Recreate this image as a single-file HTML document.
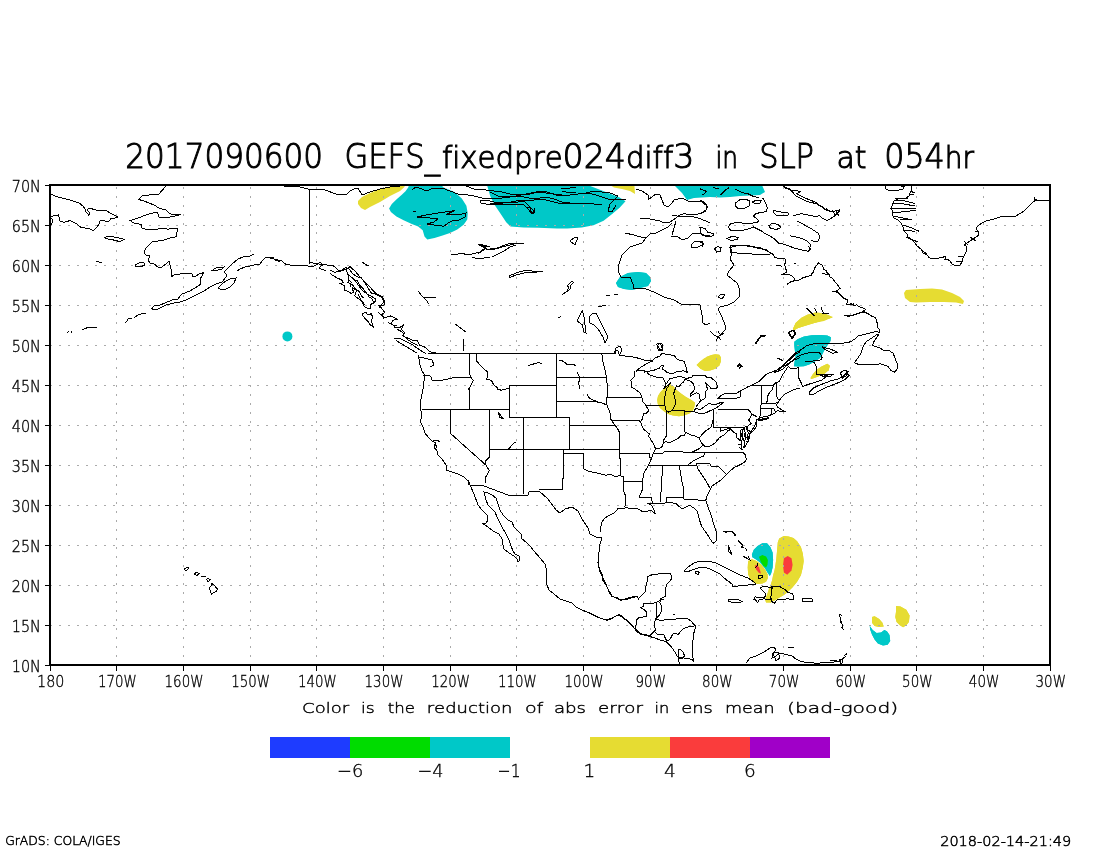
<!DOCTYPE html>
<html><head><meta charset="utf-8"><title>2017090600 GEFS_fixedpre024diff3 in SLP at 054hr</title>
<style>
html,body{margin:0;padding:0;background:#fff;}
svg{display:block;}
text{font-family:"DejaVu Sans Light","DejaVu Sans","Liberation Sans",sans-serif;font-weight:200;fill:#000;stroke:#000;font-variant-ligatures:none;font-kerning:none;}
.ax{font-size:16px;}
</style></head>
<body>
<svg width="1100" height="850" viewBox="0 0 1100 850">
<rect width="1100" height="850" fill="#fff"/>
<g><path fill="#e6dc32" d="M358 201 362 197 370 193 380 189 390 186.6 402 185.6 405 186.6 400 191 390 196 380 202 370 207 365 210 361 208 358 204Z"/><path fill="#00c8c8" d="M409 185 441 185 443.6 187.5 454.5 192.1 461.8 198.5 466.4 205.7 467.7 213 467.3 219.4 463.6 224.8 457.3 229.4 450 233 441.8 235.7 434.5 238 427.3 239.4 424.5 236.6 422.7 230.3 418.2 226.6 411.8 223.9 403.6 220.3 396.4 216.6 390.9 212.1 389.1 208.5 391.8 203.9 396.4 199.4 401.8 194.8 405.5 191.2 408.2 187.5Z"/><path fill="#00c8c8" d="M487 185 587.6 185 605.1 191.7 619.6 197.5 625.5 201.2 619.6 207.7 610.9 215 603.6 220.8 593.5 225.2 581.8 227.4 567.3 228.4 557.1 228.4 538.2 227.8 523.6 227.4 510.5 226.6 506.2 222.3 500.4 213.5 494.5 204.8 490.2 196.1 487.3 186Z"/><path fill="#e6dc32" d="M610 185 634.4 185 635 194 630 191 622 189 614 187.4Z"/><path fill="#00c8c8" d="M674 185 762 185 765 192 760 195 750 195.4 740 196 730 197 720 197.4 710 197 702 197.4 694 198 687 200 682 193Z"/><path fill="#e6dc32" d="M793 329 796 323 802 318 812 314 822 313 833 317 824 321 814 323 806 325 798 328 794 330.6Z"/><path fill="#e6dc32" d="M904 293 906 290 920 289 932 288.6 942 289.4 952 293 960 297 964 301 963 304 956 302.6 944 302 930 302 916 302.6 910 302 905 298Z"/><path fill="#00c8c8" d="M794.3 341.8 797.5 339.2 804 336.6 811.8 335.3 820.8 335 827.3 335.5 830.9 337.2 830.5 341.1 827.3 345.6 824.7 349.5 822.1 354.7 819.5 358.6 814.3 361.8 809.2 364.4 804 366.3 798.8 366.6 793.9 366.3 794.7 361.2 795.6 356 794.9 350.8 794.3 345.6Z"/><path fill="#e6dc32" d="M793 328.8 795.6 323 801.4 317.8 807.9 314.6 815.6 312.6 823.4 313.3 828.6 315.2 832.5 317.4 827.3 319.1 820.8 321.1 814.3 323 807.9 324.9 801.4 326.9 796.2 328.8 793.6 330.8Z"/><path fill="#e6dc32" d="M810.5 378 813 374.1 816.9 369.6 822.1 366.3 827.3 363.8 829.9 365.7 828.6 370.2 824.7 373.5 819.5 376 814.3 378 811.1 379Z"/><path fill="#e6dc32" d="M783.9 536.1 779.2 538.5 777.8 542.2 777.4 546.9 776.9 552.6 776.4 558.2 775.5 564.8 774.5 570.5 773.1 575.2 772.2 579.9 770.8 584.6 768.9 589.3 767 594.9 765.1 599.6 766.1 602.5 770.8 602.5 774.5 600.6 779.2 597.8 783.9 594.9 787.7 592.1 792.4 587.4 797.1 581.8 800.9 575.2 802.8 567.6 803.7 561.1 802.8 553.5 800.9 546.9 797.1 541.3 793.4 538 788.6 536.4Z"/><path fill="#fa3c3c" d="M783.9 558.2 787.7 555.9 791.5 558.2 792.6 564.8 791.5 570.5 787.2 574.7 783.9 572.4 783 565.8Z"/><path fill="#00c8c8" d="M751.9 554.5 753.8 549.8 757.6 546 762.3 543.2 767 543.2 770.3 546.9 772.6 552.6 773.1 560.1 772.6 567.6 771.2 573.3 769.8 576.1 767.5 572.4 765.1 568.6 762.8 565.8 759.5 562 755.7 559.2 752.4 557.3Z"/><path fill="#00dc00" d="M759 556.8 762.3 554.9 766.1 556.4 767.9 560.1 767.5 564.8 766.1 567.6 763.2 565.8 760.9 562Z"/><path fill="#e6dc32" d="M748.2 561.1 751.9 559.2 756.6 561.1 761.4 564.8 765.1 569.5 767.5 574.2 767.9 578 766.1 581.8 762.3 583.6 757.6 584.1 753.8 582.7 750.1 578.9 748.2 574.2 747.7 567.6Z"/><path fill="#fa3c3c" d="M754.8 565.8 756.6 564.8 759 567.2 760.4 571.4 760.9 573.8 758.5 572.4 756.2 569.5Z"/><path fill="#e6dc32" d="M872 616.9 874.6 616.3 879.2 618.9 882.4 622.7 883.7 626.6 879.2 627 874.6 626 872 622.7Z"/><path fill="#e6dc32" d="M896 605.9 900.5 606.6 906.3 609.8 909.6 615.6 908.9 622.1 906.3 625.3 903.1 627.3 899.9 625.3 896.6 622.1 895.3 616.9 896 611.7Z"/><path fill="#00c8c8" d="M869.8 626 872.7 629.9 876.6 633.1 881.1 632.4 884.3 629.9 886.9 631.2 889.5 635 890.2 640.9 887.6 644.7 883 645.6 877.9 643.4 874.6 639.6 872 634.4 870.1 629.2Z"/><path fill="#00c8c8" d="M616 283 620 277 628 273 638 272 646 273 650 277 651 281 648 286 640 288 632 290 624 289 618 287Z"/><path fill="#e6dc32" d="M696.6 364.9 699.9 361.7 703.8 358.7 707.6 356.5 711.5 355 715.4 354.3 719.3 354.8 720.8 357.2 720.8 361.7 719.3 365.6 715.4 368.8 710.2 370.4 705 371.1 700.5 368.8Z"/><path fill="#e6dc32" d="M657.2 400 658 396 660.5 392 663.8 388.7 667 386.2 670.4 384.5 672.8 385.4 676 389.5 681 393.6 686 396.9 691.8 400.2 695 402.7 694.2 407.6 692.6 411 689.3 413.4 684 415.5 679 416.3 673 415.5 668 414 664 411.2 660 408 657.8 404Z"/><path fill="#00c8c8" d="M794.3 341.8 797.5 339.2 804 336.6 811.8 335.3 820.8 335 827.3 335.5 830.9 337.2 830.5 341.1 827.3 345.6 824.7 349.5 822.1 354.7 819.5 358.6 814.3 361.8 809.2 364.4 804 366.3 798.8 366.6 793.9 366.3 794.7 361.2 795.6 356 794.9 350.8 794.3 345.6Z"/><path fill="#e6dc32" d="M793 328.8 795.6 323 801.4 317.8 807.9 314.6 815.6 312.6 823.4 313.3 828.6 315.2 832.5 317.4 827.3 319.1 820.8 321.1 814.3 323 807.9 324.9 801.4 326.9 796.2 328.8 793.6 330.8Z"/><path fill="#e6dc32" d="M810.5 378 813 374.1 816.9 369.6 822.1 366.3 827.3 363.8 829.9 365.7 828.6 370.2 824.7 373.5 819.5 376 814.3 378 811.1 379Z"/><path fill="#e6dc32" d="M783.9 536.1 779.2 538.5 777.8 542.2 777.4 546.9 776.9 552.6 776.4 558.2 775.5 564.8 774.5 570.5 773.1 575.2 772.2 579.9 770.8 584.6 768.9 589.3 767 594.9 765.1 599.6 766.1 602.5 770.8 602.5 774.5 600.6 779.2 597.8 783.9 594.9 787.7 592.1 792.4 587.4 797.1 581.8 800.9 575.2 802.8 567.6 803.7 561.1 802.8 553.5 800.9 546.9 797.1 541.3 793.4 538 788.6 536.4Z"/><path fill="#fa3c3c" d="M783.9 558.2 787.7 555.9 791.5 558.2 792.6 564.8 791.5 570.5 787.2 574.7 783.9 572.4 783 565.8Z"/><path fill="#00c8c8" d="M751.9 554.5 753.8 549.8 757.6 546 762.3 543.2 767 543.2 770.3 546.9 772.6 552.6 773.1 560.1 772.6 567.6 771.2 573.3 769.8 576.1 767.5 572.4 765.1 568.6 762.8 565.8 759.5 562 755.7 559.2 752.4 557.3Z"/><path fill="#00dc00" d="M759 556.8 762.3 554.9 766.1 556.4 767.9 560.1 767.5 564.8 766.1 567.6 763.2 565.8 760.9 562Z"/><path fill="#e6dc32" d="M748.2 561.1 751.9 559.2 756.6 561.1 761.4 564.8 765.1 569.5 767.5 574.2 767.9 578 766.1 581.8 762.3 583.6 757.6 584.1 753.8 582.7 750.1 578.9 748.2 574.2 747.7 567.6Z"/><path fill="#fa3c3c" d="M754.8 565.8 756.6 564.8 759 567.2 760.4 571.4 760.9 573.8 758.5 572.4 756.2 569.5Z"/><path fill="#e6dc32" d="M872 616.9 874.6 616.3 879.2 618.9 882.4 622.7 883.7 626.6 879.2 627 874.6 626 872 622.7Z"/><path fill="#e6dc32" d="M896 605.9 900.5 606.6 906.3 609.8 909.6 615.6 908.9 622.1 906.3 625.3 903.1 627.3 899.9 625.3 896.6 622.1 895.3 616.9 896 611.7Z"/><path fill="#00c8c8" d="M869.8 626 872.7 629.9 876.6 633.1 881.1 632.4 884.3 629.9 886.9 631.2 889.5 635 890.2 640.9 887.6 644.7 883 645.6 877.9 643.4 874.6 639.6 872 634.4 870.1 629.2Z"/><path fill="#00c8c8" d="M616 283 620 277 628 273 638 272 646 273 650 277 651 281 648 286 640 288 632 290 624 289 618 287Z"/><path fill="#e6dc32" d="M696.6 364.9 699.9 361.7 703.8 358.7 707.6 356.5 711.5 355 715.4 354.3 719.3 354.8 720.8 357.2 720.8 361.7 719.3 365.6 715.4 368.8 710.2 370.4 705 371.1 700.5 368.8Z"/><path fill="#e6dc32" d="M657.2 400 658 396 660.5 392 663.8 388.7 667 386.2 670.4 384.5 672.8 385.4 676 389.5 681 393.6 686 396.9 691.8 400.2 695 402.7 694.2 407.6 692.6 411 689.3 413.4 684 415.5 679 416.3 673 415.5 668 414 664 411.2 660 408 657.8 404Z"/><circle fill="#00c8c8" cx="287.4" cy="336.4" r="5"/></g>
<path d="M50 225.5H1050M50 265.5H1050M50 305.5H1050M50 345.5H1050M50 385.5H1050M50 425.5H1050M50 465.5H1050M50 505.5H1050M50 545.5H1050M50 585.5H1050M50 625.5H1050" stroke="#aaa" stroke-width="1" stroke-dasharray="2 7" fill="none" shape-rendering="crispEdges"/>
<path d="M116.5 666V185M183.5 666V185M250.5 666V185M316.5 666V185M383.5 666V185M450.5 666V185M516.5 666V185M583.5 666V185M650.5 666V185M716.5 666V185M783.5 666V185M850.5 666V185M916.5 666V185M983.5 666V185" stroke="#aaa" stroke-width="1" stroke-dasharray="2 7" fill="none" shape-rendering="crispEdges"/>
<g fill="none" stroke="#000" stroke-width="1" shape-rendering="crispEdges">
<path d="M50 194 58 197 70 200 79 203 83 206 85 209 86 212 89 215.4 89.6 213 87 210 89 208 96 210 106 210.6 113 214.6 118.4 217.4M118.4 217.4 111 218.6 108 222 103.6 220.6 100 221 99 224 97 227 93.6 230.6 89 228.6 81 227.4 76 223.4 70 220.6 64 222.2 60 221 58.4 215 53 216 50 216.6M50 218 52.4 219.4 53 222 51 224.4 50 224.2M105 237.4 108 236 116 237.4 124.4 239.4 119 242 117 240.6 110 239.4 106 238.6ZM96 261 101.6 263M166 186 159 194 152 194.6 142 196 138.4 199.4 144 201 154 205 160 208.6 166 210 169 213 173 215 181 214.6 172 216.6 165 218 159 217 157.6 213 154 212.6 146 215 138 218 130 220.6 134 223 141 224.4 142 228 148 230 156 229.4 164 228 168 229.4 172 228 177 228 178 231 176 233 177 236 174 237.4 170 238 164 240 158 241 153 241.4 150 244 146 248 144 252 145.6 255 150 256 148 260 150 263 154 264 158 267 162 267 166 264 169 261 170 265 171 269 171 277 174 275 180 274 186 273 192 274 193 277 196 276 199 274 204 272.6M204 272.6 200 279 201 284 198 286 190 291 182 294 180 296 178 299 172 300 165 303 160 305 154 306 151.6 309 156 310 162 307 166 305 174 303 180 302 186 300 194 296 204 291 210 287 216 284 222 282 226 277 226 274 224 272 229 267 232 264 238 259 244 256.6 250 256 254 254M135 265 139 263 144 262.6 145 265 141 266.6 135 266ZM125.6 322.6 129 318 132 318.6M134 318 138 315 141 314 145.6 313M82 330 88 327.4 97 328M67.6 332.6 69 331M71 332.6 72 331M218 288 222 284 226 281 230 279 236 278 234 283 230 287 226 289 222 290ZM211 271 216 268 224 267 222 269 216 270.6ZM237 271 240 269 245 267 250 266 254 265 260 264 262 261 265 258 268 257 270 257.4M270 185.4 284 186 300 187 310 189.4 322 189 336 194 346 195 350 191 354 189 358 188 362 195 370 192 380 189 390 187 400 186M309.4 188.6 309.4 264M451 255 458 254 462 253 466 254.6 472 254 480 252 484 249 486 247 478 244.4 483 245 490 247M472 257 478 259 490 257M270 258 274 259 278 260 282 261 286 264.6 290 265 302 265 308 266 312 267 318 264 320 262 322.4 265 319 268 326 271M270 257 273 257.4 275 260 278 260.6 280 262M362 262 368 266M455 324 466 332M464 339 463 351M412 190 416 187 422 189 426 191 434 188 442 188 450 191 458 194 466 194.6 474 196 482 198 490 199 498 198.6 510 197 516 196 524 197 534 199 546 197 554 199 562 202 570 203M466 186 474 189 486 190 494 191 502 192 510 194 520 195 530 194 538 192 546 193 554 194 562 195 570 196M480 201 486 200 494 202 506 203 518 202 524 201 530 207 534 211 532 214 528 209 524 205 518 204 506 205 494 204.6 486 204 481 203ZM417 217 426 215 438 213 455 210.6 446 214.6 458 215 466 213 465 217 459 220 452 221 448 223 443 227 441 225 434 225 427 224 434 222 438 219 430 218ZM413 211 416 211.4M478 244.6 483 247 486 248.6 482 251 478 254M486 249 494 249.4 502 247 510 245 516 243.4 524 244M490 192 498 196 506 197 516 196 526 194 536 192 544 191 550 193 556 195 564 196 570 195 578 194 588 193 596 195 602 197 608 199 614 199.4 620 200 626 199M490 204 498 203.4 508 202.6 516 201 526 200.6 534 200 542 199 550 201 558 203 566 204 574 203.4 584 203.4 594 204 602 204M524 205 526 207 530 208 531 211 533 214 535 211 534 208M561 188 566 189 570 188 576 187M562 191 570 193 576 192M586 193 594 191 602 192 610 193 618 196 614 200 610 204 608 211 612 212 616 205M636 189 642 191 648 195 648 200 652 197 656 194 660 195 662 200 664 205 668 207 672 203 674 200 678 199 682 198 688 201 694 201 702 202 706 205 707 209 702 213 694 215 686 214M640 218 650 219 660 221 664 223 670 222 676 218 680 215 686 213M672 215 682 217 690 216 698 218 706 221 710 223M671 236 678 237 682 240 688 238 692 234 698 233 704 235 710 235M672 235 676 221M625 233 634 235 642 237.4 646 238 642 243 636 245 630 247 626 251 622 255 620 261 618 267 619 273 621 277 630 277 633 284 634 289 644 288 656 293 664 297 674 300 682 304.6 690 304 700 305 702 315 703 323 706 325 710 323M646 238 650 234 656 233 662 230 668 227 672 223M691 245 694 242 702 241.4 704 244 698 247 692 248ZM490 249 496 248.6 502 246 508 244 514 243.4 524 243.6M492 257 498 254 504 251 510 247 516 245M570 241 574 238 578 237.4 576 242 575 245ZM509 276 516 273 524 270.6 532 271 543 271.4 532 272.6 524 273 516 275 510 277.4ZM562 295 567 291 569 287 567 286 570 283 572 281 573.6 282.6 571 285 570 289 567 292M577 321 581 313 582.4 311 584 317 585 325 586 333 584 332 582.4 325 580 323ZM589 317 592 314 596 313 598 317 602 325 606 333 608 337 605 343 603 337 598 329 594 325 590 323ZM598 307 606 305M606 296 610 295M614 294 618 294M558 318 561 316.6M614 354 616 348 620 346 622 350 620 354M657 347 659 343 662 344 663 350 659 350.6ZM730 246 740 245 750 246 760 248M730 246 732 253 730 259 734 265 729 271 727 275 732 279 737 283 739.6 289 739 297 734 302 728 305 720 307 718 309 722 317 725 325 726 329 722 333 718 337 716 341M718 297 721 294 725 295 722 299ZM756 344 760 337 765 335.4M788.4 333 792 330.6 796 333 792 339ZM418 355 419 359 420 365 422 371 425 375 424 381 423 389 421 399 420.4 409 422 415 420.4 422 423 427 425 433 428 437 432 441 436 443 434 447 437 451 438 455 442 459 446 465 446.4 470 452 472 458 474 464 477 468 481 469 485M433 441 438 440.6 440 442M434 444 437 446 436 448M418 357 424 358 428 359 432 360 434 365 430 367M774.2 372.2 778.1 368.9 782 366.3 785.9 362.5 791.1 357.3 794.9 353.4 801.4 349.5 806.6 345.6 814.3 343.7 822.1 343 829.9 343 837.6 343.3 844.1 343 850.6 341.8 854.5 339.2 858.3 335.9 863.5 334.6 868.7 333.3 873.9 332.1 877.7 331.4 879 333.3M879 334 876.5 337.9 873.9 341.8 872.6 345.6 876.5 346.9 880.3 348.2 884.2 350.8 889.4 350.8 893.3 353.4 894.6 357.3 895.9 360.5 897.2 363.8 897.2 368.9 894.6 372.2 890.7 370.2 888.1 366.3 884.2 365 880.3 363.8 876.5 364.4 872.6 365 867.4 364.4 860.9 364.4 855.7 363.8 854.5 362.5 858.3 357.3 860.9 353.4 862.2 349.5 863.5 345.6 866.1 341.8 870 339.2 873.9 336.6 877.7 334M776.8 372.2 780.7 367.6 785.9 365 789.8 362.5 794.9 358.6 798.8 356 804 354 809.2 352.8 814.3 352.1 819.5 352.8 820.8 354.7 822.1 357.3 820.8 359.9 816.9 360.5 811.8 361.2 807.9 361.8 804.6 361.2M822.1 346.9 829.9 348.9 837.6 352.1 832.5 353.4 826 350.2ZM788.5 367.6 793.6 368.9 798.8 367.6 798.8 372.8 798.8 378 801.4 383.2 802.7 386.4 807.9 384.5 814.3 382.5 820.8 380.6 824.7 378 827.3 375.4 816.9 374.1 816.9 367.6 814.3 362.5 811.8 361.2M809.2 392.2 813 388.3 818.2 385.7 824.7 383.2 831.2 380.6 837.6 379.3 842.8 376.7 846.7 372.8 849.3 375.4 845.4 379.3 840.2 381.9 833.8 384.5 827.3 387 822.1 389.6 816.9 392.2 813 394.8 809.8 394.2ZM820.8 375.4 827.3 374.1 832.5 374.8 829.9 376.7 823.4 376.7ZM840.2 372.8 844.1 370.2 848 371.5 846.7 375.4 842.8 378ZM879 328.8 879 332.7M844.1 315.2 850.6 315.9 857 313.9 862.2 312M760 335.3 765.8 335.3M806.6 308.1 811.8 313.3 814.3 315.9M814.3 308.1 816.9 312.6M820.8 306.8 823.4 313.3M822.1 313.5 828.6 313.5M789.1 331.4 794.3 330.1 794.9 334.6 791.7 337.9ZM776.8 357.9 783.3 360.5M470 485 474 494 478 505 482 510 487 515 488 520 486 523 483 523.6 488 527 493 531 499 534 502 539 503 545 504 549 509 553 514 556 517 559 518 562 520 560 519 556 515 554 513 551 511 546 509 540 506 534 501 525 497 517 495 512 493 510 488 505 486 500 485 496 484 492 488 493 492 495 496 498 498 504 500 510 503 515 508 520 512 522 514 527 518 531 521 534 522 539 526 542 530 546 534 551 540 558 545 564 547 571 546 580 547 585 549 590 554 594 560 599 566 601 572 603 576 607 582 610 592 614 600 618 606 620 612 618 618 615 622 617 630 623 635 629 640 634 648 636 655 638 660 640M468 480 470 485M470 485 484 486 508 495 528 495 529 492 539 491 548 499 556 510 560 513 565 509 572 507 578 511 582 519 588 528 590 534 596 537 602 538M602 538 600 544 599 552 598 564 600 572 604 580 608 589 612 596 620 600 628 599 638 596M598.4 555 598 562.8 599.7 569.2 602.3 574.4 602.9 580.2 606.8 586.1 609.4 592.5 612 596.4 617.2 597.7 621.1 600.3 625 599 631.4 597.1 636.6 596.4 638.5 599 640.5 596.4 643.1 593.8 645.7 591.2 645.9 586.1 647 582.2 647.6 577 650.8 575.1 657.3 574.2 662.5 573.1 670.3 573.8 671.8 575.7 671.6 578.9 669 582.2 666.4 584.8 665.7 588.7 665.1 596.4 662.5 597.7 660.6 599 659.9 602.9 661.8 606.8 661.8 610.7 659.9 614.5 657.3 617.1 656 619.1 659.9 620.4 667.7 619.7 675.4 619.1 680.6 618.4 687.1 618.4 691 621 693.6 624.3 695.5 625.6 694.9 629.4 693.6 634 692.9 641.7 692.3 649.5 692.9 657.3 693.6 662.4M656 602.9 656 618.4M656 602.9 660.6 599.7 664.4 599.7M656 602.9 643.1 603.5 643.1 606.8 640.5 607.4 643.7 609.4 646.3 612 647 616.5 639.2 617.4 636.6 619.7 636 624.9 635.3 628.8 639.2 632.7 641.8 634.2 648.3 635.3 649.5 635.9M656 618.4 654.7 622.3 654.7 625.6 655.4 630.1 650.8 634 649.5 635.9M590 613.3 597.8 617.1 606.8 620.4 612 618.4 618.5 614.5 622.4 616.5 627.5 621 632.7 626.2 636.6 631.4 641.1 634.2 648.3 635.9 654.7 637.8 661.2 640.4 666.4 641.7 670.3 645.6 674.1 650.8 678 657.3 679.3 663.7M649.5 635.9 654.1 631.4 657.3 634 660.6 634.6 663.8 634.6 665.7 639.1 667.7 641.1M667.7 641.1 670.9 637.8 672.8 634 675.4 633.3 678 634.6 680.6 631.4 683.2 628.8 688.4 626.8 693.6 626.2 695.5 625.6M679.3 658.6 683.2 657.9 688.4 658.6 692.3 659.9 693.6 662.4M678 650.1 680.6 649.5 683.2 652.1 684.5 656 681.3 657.9 678.7 657.3 678 653.4ZM672.8 614.8 674.8 614.3M695.5 571.8 697.4 571.2 699.4 572.5 698.1 574.4 695.9 573.8ZM723 532 728 531 733 532 736 535 734 536M728 545 730 550 732 555 729 552ZM738 540 740 543M741 546 742.4 548M744 556 749 560M684 571 688 567 694 563 700 561 708 561 716 563 722 566 728 569 734 572 740 575 748 578 754 582 756 584 748 585 738 586 733 587 732 584 728 581 724 578 720 574 716 572 710 569 704 567 698 568 692 570 688 571.6 685 571.6ZM728 600 732 599 738 599.6 742 601.6 738 603 732 602.4 728 601ZM802 599 806 598 812 599 812.4 601.6 806 602 802 601ZM746 663 750 658 756 656 764 652 770 648 774 647 776 650 773 653 772 658 776 656 780 653 784 654 788 655 792 656 796 659 800 661 804 662 810 662.4 814 663 820 663 832 662.4 840 661 846 656M773 653 778 652 780 658 776 661ZM788 647 794 648M839 614 842 624 843 629M757.6 563.4 757.1 565.8 755.2 567.6M758.1 576.1 759.9 575.6 763.2 576.1 761.4 578 758.5 578.5ZM748.2 556.4 750.5 561.1M760.4 587.4 763.2 586.5 767 586.9 770.8 587.4 772.6 586.5 776.4 586 780.2 586.9 783.9 588.8 786.8 591.2 787.7 592.1 792.4 594 793.8 595.9 793.4 599.6 790.5 599.6 787.7 598.7 783.9 599.6 780.2 599.6 776.4 600.1 774.5 603.4 772.6 602.5 771.7 599.6 767.9 599.6 764.2 598.7 759.5 599.6 757.6 602.5 755.7 600.1 753.8 599.2 755.2 596.8 758.5 597.8 762.3 597.8 765.1 596.8 766.1 594.9 764.2 592.1 762.3 590.2 760.4 588.4ZM772.2 586.5 771.7 592.1 770.8 597.8 772.2 602.5M738.8 541.3 742.5 545.1 743.5 548.4M745.4 547.9 747.2 551.2M743.5 555.9 745.4 558.2M839.1 614.3 842.3 615.6M839.7 620.8 841.6 623.4M841.6 627.3 843.6 629.9M844.2 655.7 846.8 653.8M830 660.9 836.5 660.3M839.7 659.6 842.3 659.6 842.9 662.2 841 663.5ZM600 531.8 601.5 522.9 604.4 518.5 608.8 515.6 614.7 512.6 617.6 509 622.1 508.2 626.5 507.9 632.4 508.5 636.8 508.2 639.7 509.7 642.6 511.9 647.1 511.2 651.5 510.4 652.9 511.9 655.1 513.4 653.7 509 651.5 505.3 648.5 503.8 651.5 503.5 654.4 503.8 660.3 503.5 664.7 503.1 669.1 502.4 673.5 503.1 676.5 503.8 679.4 506.8 682.4 509 685.3 507.5 689.7 505.3 694.1 508.2 697.1 511.2 698.5 515.6 700 521.5 701.5 525.9 704.4 530.3 707.4 534.7 710.3 539.1 713.2 543.5 716.2 540.6 716.9 534.7 715.4 528.8 713.2 522.9 711.8 517.1 709.6 511.2 707.4 505.3 705.9 500.9 706.6 496.5 708.8 492.1 711.8 486.2 716.2 483.2 720.6 480.3 725 475.9 729.4 471.5 733.8 467.8 738.2 465.6 741.2 464.1 744.1 462.6 746.3 459.7 745.6 455.3 743.4 453.1M725 532.5 729.4 531 732.4 531.8 735.3 535.4M738.2 541.3 741.2 543.5M774.1 371.8 780 368.2 784.7 363.5 789.4 360 794.1 355.3 800 351.8M775.3 372.4 782.4 369.4 787.1 365.3 792.9 360.6 800 357.6M756.5 420 760 417.6 765.9 416.5 770.6 415.3 775.3 412.9 777.6 410.6 780 411.2 784.1 411.2 781.2 409.4 777.6 407.1 776.5 404.7 778.8 401.2 781.2 397.6 784.7 394.1 789.4 391.8 794.1 389.4 800 388.2M757.6 420 763.5 418.8 769.4 417.6 765.9 419.4 760 420.6ZM756.5 420 755.3 424.7 751.8 430.6 749.4 434.1 748.2 440M747.1 427.1 748.2 432.9 747.1 440M740 430.6 741.2 434.1 742.9 440M744.7 432.9 745.3 440M738.2 366.5 740 364.7 741.8 366.5 740 368.2ZM755.3 343.5 757.6 340.6M777.1 358.2 782.4 360.6M656.5 344.2 659.1 342.9 661.7 345.5 662.3 350.1 659.8 349.4ZM738 365.6 739.7 363.9 741.3 366.2 739.7 368.2ZM755.5 342.9 758.1 339.1 760.7 337.1 765.2 335.8M710.2 331.3 714.1 335.2 719.3 337.8 720.6 339.7M718 331.3 720.6 335.2 724.5 332.6M330 270.1 334.5 272.3 341.2 270.6 345.7 267.3 349 268.9 352.4 273.4 356.8 276.8 361.3 277.9 364.7 282.4 368 287.9 371.4 293 377 294.7 381.4 296.9 383.7 299.1 384.8 302.5 383.7 305.8 379.2 305.8 382.5 309.2 384.8 312.5 381.4 314.8 383.7 318.1 390.4 315.9 397.1 319.2 392.6 320.4 391.5 323.7 394.8 327.1 400.4 327.1 403.8 324.8 401.5 329.3 404.9 332.7 402.7 336 408.3 338.3 412.7 340.5 417.2 340.5 419.4 345 425 347.2 428.4 350.5 432.8 352.8 440 353.3M330 273.4 333.4 275.7 337.8 278.4 341.2 279.6 343.4 282.4 340.1 283.5 344.5 285.7 344.5 290.2 347.9 291.3 351.2 293.5 353.5 292.4 352.4 287.9 356.8 290.2 354.6 295.8 359.1 299.1 362.4 302.5 364.7 307 366.9 308.1 370.2 308.1 370.2 304.7 374.7 302.5 375.8 299.1 372.5 296.9 368 294.7 363.5 291.3 360.2 287.9 357.9 284.6 355.7 281.2 352.4 277.9 347.9 274.5 346.8 271.2 345.7 268.9M346.8 271.2 349 276.8 347.9 282.4 352.4 284.6 355.7 289.1 359.1 291.3 361.3 295.8 363.5 298M356.8 280.1 360.2 285.7 363.5 289.1 366.9 293.5 369.1 296.9 372.5 299.1 373.6 302.5M347.9 279 351.2 282.4 350.1 286.8M357.9 293.5 361.3 300.2 364.7 304.7M362.4 313.7 365.8 312.5 368 314.8 371.4 313.7 372.5 317 371.4 321.5 373.6 327.1 370.2 324.8 368 321.5 364.7 318.1 363 315.9ZM394.3 338.8 399.3 338.3 403.8 340.5 408.3 342.7 412.7 345 417.2 348.3 422.8 351.7 426.1 353.9M396 340.5 401.5 343.8 407.1 347.2 412.7 350.5 417.2 353.3M362.4 262.2 368.6 266.1M418.3 291.3 421.7 295.8 427.3 301.4 428.4 303.6M423.9 298 435.6 297.4M378.1 312.5 382.5 315.9 385.9 318.1M388.1 322.6 392.6 324.8 397.1 326M397.1 329.3 401.5 331.5 403.8 333.8M406 338.3 410.5 341.6 415 343.8 418.3 346.1M911 186 912 189 910 193 909 196 906 198 898 199 894 201 893 204 891 208.5 893 212 892.5 215 894 218 898 220 901 223 903 227 904 231 907 234 908 237 912 240 915 243 917 246 921 249 923 253 927 255 930 258 936 258.5 942 257.5 945 256.5 946 259 950 261 952 264 956 266 960 265 962 262 963 258 965 254 967 250 966 246 964 245 967 243 970 241 973 239 976 237 979 235 978 232 976 228 978 226 982 223 986 221 990 220 994 219 1000 217 1008 216 1016 216 1024 211 1032 203 1036 200 1040 201 1050 200.6M1034 197 1035 200 1037 199M894 200 905 201 915 203.5M892 203 904 204 915 206M890.5 208.5 905 208 916 208.5M892 213 905 211.5 916 210.5M893 216 903 218 912 220M903 225 912 228 919.5 231.5M904 230 910 230.5 915 232M906 237 912 239.5 918 242M910 191 915 193M909 195 914 194.5M895 199 908 198M900 220 910 219.5M921 250 927 254M928 257 932 259M944 259 949 259.5M956 262 963 261M958 257 964 256M964 241 968 245M970 237 976 241M975 231 979 232M885 186 886 189 890 191 897 190.5 903 189 904 186.5 901 186M528.2 365.5 533.6 364 537.7 362.7 541.8 363.3M559.5 360 563.6 361.4 567.7 364.9 571.8 364.1 575.9 365.5M577.3 372.3 580 377.7 578.6 383.2 580 388.6M586.8 394 589.5 398.2 593.6 400.4 597.7 401.5M498.2 411.8 500.9 415.9 503.1 418.6 499.5 417.3ZM507.7 450 513 444 516 441.8M184.2 569.3 187 567 188.8 568.3 186 570.8ZM194.3 573.8 196.5 572.2 198.9 573.5 196.8 575.7ZM201.1 576.4 205.7 576.4M206.3 579.5 208 578.2 210.1 579.6 208.3 581.7ZM211.5 583.4 213.6 584.7 215.8 587.2 217.7 589.1 216.4 591.3 213.6 592.6 211.5 594.3 210.4 591 209.3 588 211.5 585.5ZM760 247.6 765.1 250.2 772.7 254 775.3 257.8 785.5 259.1 784.8 265.5 786.7 271.8 782.9 274.4 789.3 274.4 793.1 276.9 795.6 280.7 798.2 280.7M786.7 284.5 790.5 282 794.4 280.7 798.2 280.7 802 278.2 805.8 276.9 810.9 275.6 812.2 273.1 813.5 271.8 814.7 268 816.6 265.5 818.5 262.9 822.4 265.5 823.6 269.3 826.2 270.5 827.5 273.7 830 274.4 829.4 276.9 832.5 278.2 835.1 282 836.4 283.3 838.3 285.8 840.2 288.4 836.4 290.9 838.9 293.5 841.5 296 844 298.5 847.8 299.8 846.5 304.9 851.6 303.6 854.2 305.5 856.7 304.9 859.3 306.8 861.8 307.5 865.6 309.4 863.1 311.3 868.2 313.8 872 316.4 875.8 317.6 876.5 321.5 877.1 322.7 877.7 326.5 878.4 329.1M794.4 262.9 796.3 264.2M844 315.1 849.1 316.4 854.2 314.5 859.3 313.2 864.4 311.9M822.4 273.7 828.7 274.4M832.5 291.5 837.6 292.2M849.1 304.9 854.2 303.6M776.5 265.5 782.3 266.1M781 275 787.4 274.1M735.6 202.8 739.5 200 745.8 199.3 749.6 200.9 749 206 744.5 208.2 738.2 208.5 735.6 206ZM752.2 202.2 756 200.3 761.1 200.9 759.8 203.5 754.7 203.5ZM768.7 225.7 772.5 223.2 778.3 224.5 780.8 227.6 776.4 229.5 770.6 228.3ZM762.4 197.7 764.9 201.5 767.5 207.9 766.2 211.7 761.1 212.4 756 213.6 753.5 216.2 756 218.1 758.5 220.6 757.3 222.5 750.9 223.2 743.3 223.2 736.9 222.5 730.5 223.8 728.6 227 730.5 230.2 736.9 230.8 743.3 230.2 748.4 228.9 753.5 227 757.3 228.9 761.1 230.8 764.9 233.4 770 235.9 773.8 238.5 776.4 241 778.9 243.5 784 244.2 789.1 246.1 794.2 248 801.8 249.9 808.2 251.2 810.7 248.6 808.2 246.1M790.4 235.9 796.7 237.2 801.8 238.5 806.9 241 810.7 244.8 809.5 248.6M773.8 210.5 778.9 211.7 787.8 213 789.1 214.9 782.7 215.5 776.4 215.5 773.8 213ZM792.9 216.2 798 214.3 801.8 213.6 806.9 214.9 812 215.5 814.5 216.8 819.6 215.5 822.2 218.1 827.3 220.6 833.6 216.8 838.7 211.7 840 210.5M796.7 221.3 801.8 223.2 805.6 225.7 810.7 228.3 814.5 230.8 818.4 233.4 819.6 237.2 818.4 241 814.5 241.6 810.7 239.7M782.7 186.3 789.1 188.8 792.9 192.6 796.7 196.5 801.8 199 806.9 201.5 812 202.8 817.1 204.1 822.2 207.3 827.3 210.5 832.4 211.7 837.5 210.5 840 209.8M784 187.5 791.6 190.1 800.5 191.4 796.7 193.9 804.4 197.7 810.7 200.3 814.5 201.5 819.6 205.4 824.7 209.2 829.8 210.5M812 201.5 814.5 203.5M815.8 202.2 818.4 204.1M822.2 206 824.1 208.5M826 207.9 828.5 211.1M832.4 210.5 834.9 214.3M836.2 211.7 838.7 215.5M700 227.6 705.1 228.3 707.6 232.1 714 234 712.7 235.9 706.4 236.5 701.3 234.6ZM726.7 238.5 731.8 236.5 738.2 237.2 736.9 239.7 730.5 240.4ZM714.6 248.6 717.8 246.7 721 247.6 720.4 251.2 716.5 252.2ZM729.9 247.4 738.2 245.5 748.4 246.1 757.3 248 766.2 249.9 771.3 253.7 766.2 255 757.3 254.4 748.4 253.7 738.2 253.1 730.5 252.5ZM700 200.3 705.1 202.8 707.6 206.6 705.1 211.7 701.3 213M700 242.3 703.2 243.5 702.5 246.1 700 245.8M720.4 195.2 725.5 190.1 729.3 187.5M734.4 188.8 742 192.6 748.4 193.9 753.5 196.5 758.5 197.7M700 188.8 706.4 191.4 702.5 195.2M712.7 187.5 719.1 188.8M774.2 372.2 778.1 368.9 782 366.3 785.9 362.5 791.1 357.3 794.9 353.4 801.4 349.5 806.6 345.6 814.3 343.7 822.1 343 829.9 343 837.6 343.3 844.1 343 850.6 341.8 854.5 339.2 858.3 335.9 863.5 334.6 868.7 333.3 873.9 332.1 877.7 331.4 879 333.3M879 334 876.5 337.9 873.9 341.8 872.6 345.6 876.5 346.9 880.3 348.2 884.2 350.8 889.4 350.8 893.3 353.4 894.6 357.3 895.9 360.5 897.2 363.8 897.2 368.9 894.6 372.2 890.7 370.2 888.1 366.3 884.2 365 880.3 363.8 876.5 364.4 872.6 365 867.4 364.4 860.9 364.4 855.7 363.8 854.5 362.5 858.3 357.3 860.9 353.4 862.2 349.5 863.5 345.6 866.1 341.8 870 339.2 873.9 336.6 877.7 334M776.8 372.2 780.7 367.6 785.9 365 789.8 362.5 794.9 358.6 798.8 356 804 354 809.2 352.8 814.3 352.1 819.5 352.8 820.8 354.7 822.1 357.3 820.8 359.9 816.9 360.5 811.8 361.2 807.9 361.8 804.6 361.2M822.1 346.9 829.9 348.9 837.6 352.1 832.5 353.4 826 350.2ZM788.5 367.6 793.6 368.9 798.8 367.6 798.8 372.8 798.8 378 801.4 383.2 802.7 386.4 807.9 384.5 814.3 382.5 820.8 380.6 824.7 378 827.3 375.4 816.9 374.1 816.9 367.6 814.3 362.5 811.8 361.2M809.2 392.2 813 388.3 818.2 385.7 824.7 383.2 831.2 380.6 837.6 379.3 842.8 376.7 846.7 372.8 849.3 375.4 845.4 379.3 840.2 381.9 833.8 384.5 827.3 387 822.1 389.6 816.9 392.2 813 394.8 809.8 394.2ZM820.8 375.4 827.3 374.1 832.5 374.8 829.9 376.7 823.4 376.7ZM840.2 372.8 844.1 370.2 848 371.5 846.7 375.4 842.8 378ZM879 328.8 879 332.7M844.1 315.2 850.6 315.9 857 313.9 862.2 312M760 335.3 765.8 335.3M806.6 308.1 811.8 313.3 814.3 315.9M814.3 308.1 816.9 312.6M820.8 306.8 823.4 313.3M822.1 313.5 828.6 313.5M789.1 331.4 794.3 330.1 794.9 334.6 791.7 337.9ZM776.8 357.9 783.3 360.5M470 485 474 494 478 505 482 510 487 515 488 520 486 523 483 523.6 488 527 493 531 499 534 502 539 503 545 504 549 509 553 514 556 517 559 518 562 520 560 519 556 515 554 513 551 511 546 509 540 506 534 501 525 497 517 495 512 493 510 488 505 486 500 485 496 484 492 488 493 492 495 496 498 498 504 500 510 503 515 508 520 512 522 514 527 518 531 521 534 522 539 526 542 530 546 534 551 540 558 545 564 547 571 546 580 547 585 549 590 554 594 560 599 566 601 572 603 576 607 582 610 592 614 600 618 606 620 612 618 618 615 622 617 630 623 635 629 640 634 648 636 655 638 660 640M468 480 470 485M470 485 484 486 508 495 528 495 529 492 539 491 548 499 556 510 560 513 565 509 572 507 578 511 582 519 588 528 590 534 596 537 602 538M602 538 600 544 599 552 598 564 600 572 604 580 608 589 612 596 620 600 628 599 638 596M598.4 555 598 562.8 599.7 569.2 602.3 574.4 602.9 580.2 606.8 586.1 609.4 592.5 612 596.4 617.2 597.7 621.1 600.3 625 599 631.4 597.1 636.6 596.4 638.5 599 640.5 596.4 643.1 593.8 645.7 591.2 645.9 586.1 647 582.2 647.6 577 650.8 575.1 657.3 574.2 662.5 573.1 670.3 573.8 671.8 575.7 671.6 578.9 669 582.2 666.4 584.8 665.7 588.7 665.1 596.4 662.5 597.7 660.6 599 659.9 602.9 661.8 606.8 661.8 610.7 659.9 614.5 657.3 617.1 656 619.1 659.9 620.4 667.7 619.7 675.4 619.1 680.6 618.4 687.1 618.4 691 621 693.6 624.3 695.5 625.6 694.9 629.4 693.6 634 692.9 641.7 692.3 649.5 692.9 657.3 693.6 662.4M656 602.9 656 618.4M656 602.9 660.6 599.7 664.4 599.7M656 602.9 643.1 603.5 643.1 606.8 640.5 607.4 643.7 609.4 646.3 612 647 616.5 639.2 617.4 636.6 619.7 636 624.9 635.3 628.8 639.2 632.7 641.8 634.2 648.3 635.3 649.5 635.9M656 618.4 654.7 622.3 654.7 625.6 655.4 630.1 650.8 634 649.5 635.9M590 613.3 597.8 617.1 606.8 620.4 612 618.4 618.5 614.5 622.4 616.5 627.5 621 632.7 626.2 636.6 631.4 641.1 634.2 648.3 635.9 654.7 637.8 661.2 640.4 666.4 641.7 670.3 645.6 674.1 650.8 678 657.3 679.3 663.7M649.5 635.9 654.1 631.4 657.3 634 660.6 634.6 663.8 634.6 665.7 639.1 667.7 641.1M667.7 641.1 670.9 637.8 672.8 634 675.4 633.3 678 634.6 680.6 631.4 683.2 628.8 688.4 626.8 693.6 626.2 695.5 625.6M679.3 658.6 683.2 657.9 688.4 658.6 692.3 659.9 693.6 662.4M678 650.1 680.6 649.5 683.2 652.1 684.5 656 681.3 657.9 678.7 657.3 678 653.4ZM672.8 614.8 674.8 614.3M695.5 571.8 697.4 571.2 699.4 572.5 698.1 574.4 695.9 573.8ZM723 532 728 531 733 532 736 535 734 536M728 545 730 550 732 555 729 552ZM738 540 740 543M741 546 742.4 548M744 556 749 560M684 571 688 567 694 563 700 561 708 561 716 563 722 566 728 569 734 572 740 575 748 578 754 582 756 584 748 585 738 586 733 587 732 584 728 581 724 578 720 574 716 572 710 569 704 567 698 568 692 570 688 571.6 685 571.6ZM728 600 732 599 738 599.6 742 601.6 738 603 732 602.4 728 601ZM802 599 806 598 812 599 812.4 601.6 806 602 802 601ZM746 663 750 658 756 656 764 652 770 648 774 647 776 650 773 653 772 658 776 656 780 653 784 654 788 655 792 656 796 659 800 661 804 662 810 662.4 814 663 820 663 832 662.4 840 661 846 656M773 653 778 652 780 658 776 661ZM788 647 794 648M839 614 842 624 843 629M757.6 563.4 757.1 565.8 755.2 567.6M758.1 576.1 759.9 575.6 763.2 576.1 761.4 578 758.5 578.5ZM748.2 556.4 750.5 561.1M760.4 587.4 763.2 586.5 767 586.9 770.8 587.4 772.6 586.5 776.4 586 780.2 586.9 783.9 588.8 786.8 591.2 787.7 592.1 792.4 594 793.8 595.9 793.4 599.6 790.5 599.6 787.7 598.7 783.9 599.6 780.2 599.6 776.4 600.1 774.5 603.4 772.6 602.5 771.7 599.6 767.9 599.6 764.2 598.7 759.5 599.6 757.6 602.5 755.7 600.1 753.8 599.2 755.2 596.8 758.5 597.8 762.3 597.8 765.1 596.8 766.1 594.9 764.2 592.1 762.3 590.2 760.4 588.4ZM772.2 586.5 771.7 592.1 770.8 597.8 772.2 602.5M738.8 541.3 742.5 545.1 743.5 548.4M745.4 547.9 747.2 551.2M743.5 555.9 745.4 558.2M839.1 614.3 842.3 615.6M839.7 620.8 841.6 623.4M841.6 627.3 843.6 629.9M844.2 655.7 846.8 653.8M830 660.9 836.5 660.3M839.7 659.6 842.3 659.6 842.9 662.2 841 663.5ZM600 531.8 601.5 522.9 604.4 518.5 608.8 515.6 614.7 512.6 617.6 509 622.1 508.2 626.5 507.9 632.4 508.5 636.8 508.2 639.7 509.7 642.6 511.9 647.1 511.2 651.5 510.4 652.9 511.9 655.1 513.4 653.7 509 651.5 505.3 648.5 503.8 651.5 503.5 654.4 503.8 660.3 503.5 664.7 503.1 669.1 502.4 673.5 503.1 676.5 503.8 679.4 506.8 682.4 509 685.3 507.5 689.7 505.3 694.1 508.2 697.1 511.2 698.5 515.6 700 521.5 701.5 525.9 704.4 530.3 707.4 534.7 710.3 539.1 713.2 543.5 716.2 540.6 716.9 534.7 715.4 528.8 713.2 522.9 711.8 517.1 709.6 511.2 707.4 505.3 705.9 500.9 706.6 496.5 708.8 492.1 711.8 486.2 716.2 483.2 720.6 480.3 725 475.9 729.4 471.5 733.8 467.8 738.2 465.6 741.2 464.1 744.1 462.6 746.3 459.7 745.6 455.3 743.4 453.1M725 532.5 729.4 531 732.4 531.8 735.3 535.4M738.2 541.3 741.2 543.5M774.1 371.8 780 368.2 784.7 363.5 789.4 360 794.1 355.3 800 351.8M775.3 372.4 782.4 369.4 787.1 365.3 792.9 360.6 800 357.6M756.5 420 760 417.6 765.9 416.5 770.6 415.3 775.3 412.9 777.6 410.6 780 411.2 784.1 411.2 781.2 409.4 777.6 407.1 776.5 404.7 778.8 401.2 781.2 397.6 784.7 394.1 789.4 391.8 794.1 389.4 800 388.2M757.6 420 763.5 418.8 769.4 417.6 765.9 419.4 760 420.6ZM756.5 420 755.3 424.7 751.8 430.6 749.4 434.1 748.2 440M747.1 427.1 748.2 432.9 747.1 440M740 430.6 741.2 434.1 742.9 440M744.7 432.9 745.3 440M738.2 366.5 740 364.7 741.8 366.5 740 368.2ZM755.3 343.5 757.6 340.6M777.1 358.2 782.4 360.6M656.5 344.2 659.1 342.9 661.7 345.5 662.3 350.1 659.8 349.4ZM738 365.6 739.7 363.9 741.3 366.2 739.7 368.2ZM755.5 342.9 758.1 339.1 760.7 337.1 765.2 335.8M710.2 331.3 714.1 335.2 719.3 337.8 720.6 339.7M718 331.3 720.6 335.2 724.5 332.6M330 270.1 334.5 272.3 341.2 270.6 345.7 267.3 349 268.9 352.4 273.4 356.8 276.8 361.3 277.9 364.7 282.4 368 287.9 371.4 293 377 294.7 381.4 296.9 383.7 299.1 384.8 302.5 383.7 305.8 379.2 305.8 382.5 309.2 384.8 312.5 381.4 314.8 383.7 318.1 390.4 315.9 397.1 319.2 392.6 320.4 391.5 323.7 394.8 327.1 400.4 327.1 403.8 324.8 401.5 329.3 404.9 332.7 402.7 336 408.3 338.3 412.7 340.5 417.2 340.5 419.4 345 425 347.2 428.4 350.5 432.8 352.8 440 353.3M330 273.4 333.4 275.7 337.8 278.4 341.2 279.6 343.4 282.4 340.1 283.5 344.5 285.7 344.5 290.2 347.9 291.3 351.2 293.5 353.5 292.4 352.4 287.9 356.8 290.2 354.6 295.8 359.1 299.1 362.4 302.5 364.7 307 366.9 308.1 370.2 308.1 370.2 304.7 374.7 302.5 375.8 299.1 372.5 296.9 368 294.7 363.5 291.3 360.2 287.9 357.9 284.6 355.7 281.2 352.4 277.9 347.9 274.5 346.8 271.2 345.7 268.9M346.8 271.2 349 276.8 347.9 282.4 352.4 284.6 355.7 289.1 359.1 291.3 361.3 295.8 363.5 298M356.8 280.1 360.2 285.7 363.5 289.1 366.9 293.5 369.1 296.9 372.5 299.1 373.6 302.5M347.9 279 351.2 282.4 350.1 286.8M357.9 293.5 361.3 300.2 364.7 304.7M362.4 313.7 365.8 312.5 368 314.8 371.4 313.7 372.5 317 371.4 321.5 373.6 327.1 370.2 324.8 368 321.5 364.7 318.1 363 315.9ZM394.3 338.8 399.3 338.3 403.8 340.5 408.3 342.7 412.7 345 417.2 348.3 422.8 351.7 426.1 353.9M396 340.5 401.5 343.8 407.1 347.2 412.7 350.5 417.2 353.3M362.4 262.2 368.6 266.1M418.3 291.3 421.7 295.8 427.3 301.4 428.4 303.6M423.9 298 435.6 297.4M378.1 312.5 382.5 315.9 385.9 318.1M388.1 322.6 392.6 324.8 397.1 326M397.1 329.3 401.5 331.5 403.8 333.8M406 338.3 410.5 341.6 415 343.8 418.3 346.1M911 186 912 189 910 193 909 196 906 198 898 199 894 201 893 204 891 208.5 893 212 892.5 215 894 218 898 220 901 223 903 227 904 231 907 234 908 237 912 240 915 243 917 246 921 249 923 253 927 255 930 258 936 258.5 942 257.5 945 256.5 946 259 950 261 952 264 956 266 960 265 962 262 963 258 965 254 967 250 966 246 964 245 967 243 970 241 973 239 976 237 979 235 978 232 976 228 978 226 982 223 986 221 990 220 994 219 1000 217 1008 216 1016 216 1024 211 1032 203 1036 200 1040 201 1050 200.6M1034 197 1035 200 1037 199M894 200 905 201 915 203.5M892 203 904 204 915 206M890.5 208.5 905 208 916 208.5M892 213 905 211.5 916 210.5M893 216 903 218 912 220M903 225 912 228 919.5 231.5M904 230 910 230.5 915 232M906 237 912 239.5 918 242M910 191 915 193M909 195 914 194.5M895 199 908 198M900 220 910 219.5M921 250 927 254M928 257 932 259M944 259 949 259.5M956 262 963 261M958 257 964 256M964 241 968 245M970 237 976 241M975 231 979 232M885 186 886 189 890 191 897 190.5 903 189 904 186.5 901 186M528.2 365.5 533.6 364 537.7 362.7 541.8 363.3M559.5 360 563.6 361.4 567.7 364.9 571.8 364.1 575.9 365.5M577.3 372.3 580 377.7 578.6 383.2 580 388.6M586.8 394 589.5 398.2 593.6 400.4 597.7 401.5M498.2 411.8 500.9 415.9 503.1 418.6 499.5 417.3ZM507.7 450 513 444 516 441.8M184.2 569.3 187 567 188.8 568.3 186 570.8ZM194.3 573.8 196.5 572.2 198.9 573.5 196.8 575.7ZM201.1 576.4 205.7 576.4M206.3 579.5 208 578.2 210.1 579.6 208.3 581.7ZM211.5 583.4 213.6 584.7 215.8 587.2 217.7 589.1 216.4 591.3 213.6 592.6 211.5 594.3 210.4 591 209.3 588 211.5 585.5ZM760 247.6 765.1 250.2 772.7 254 775.3 257.8 785.5 259.1 784.8 265.5 786.7 271.8 782.9 274.4 789.3 274.4 793.1 276.9 795.6 280.7 798.2 280.7M786.7 284.5 790.5 282 794.4 280.7 798.2 280.7 802 278.2 805.8 276.9 810.9 275.6 812.2 273.1 813.5 271.8 814.7 268 816.6 265.5 818.5 262.9 822.4 265.5 823.6 269.3 826.2 270.5 827.5 273.7 830 274.4 829.4 276.9 832.5 278.2 835.1 282 836.4 283.3 838.3 285.8 840.2 288.4 836.4 290.9 838.9 293.5 841.5 296 844 298.5 847.8 299.8 846.5 304.9 851.6 303.6 854.2 305.5 856.7 304.9 859.3 306.8 861.8 307.5 865.6 309.4 863.1 311.3 868.2 313.8 872 316.4 875.8 317.6 876.5 321.5 877.1 322.7 877.7 326.5 878.4 329.1M794.4 262.9 796.3 264.2M844 315.1 849.1 316.4 854.2 314.5 859.3 313.2 864.4 311.9M822.4 273.7 828.7 274.4M832.5 291.5 837.6 292.2M849.1 304.9 854.2 303.6M776.5 265.5 782.3 266.1M781 275 787.4 274.1M735.6 202.8 739.5 200 745.8 199.3 749.6 200.9 749 206 744.5 208.2 738.2 208.5 735.6 206ZM752.2 202.2 756 200.3 761.1 200.9 759.8 203.5 754.7 203.5ZM768.7 225.7 772.5 223.2 778.3 224.5 780.8 227.6 776.4 229.5 770.6 228.3ZM762.4 197.7 764.9 201.5 767.5 207.9 766.2 211.7 761.1 212.4 756 213.6 753.5 216.2 756 218.1 758.5 220.6 757.3 222.5 750.9 223.2 743.3 223.2 736.9 222.5 730.5 223.8 728.6 227 730.5 230.2 736.9 230.8 743.3 230.2 748.4 228.9 753.5 227 757.3 228.9 761.1 230.8 764.9 233.4 770 235.9 773.8 238.5 776.4 241 778.9 243.5 784 244.2 789.1 246.1 794.2 248 801.8 249.9 808.2 251.2 810.7 248.6 808.2 246.1M790.4 235.9 796.7 237.2 801.8 238.5 806.9 241 810.7 244.8 809.5 248.6M773.8 210.5 778.9 211.7 787.8 213 789.1 214.9 782.7 215.5 776.4 215.5 773.8 213ZM792.9 216.2 798 214.3 801.8 213.6 806.9 214.9 812 215.5 814.5 216.8 819.6 215.5 822.2 218.1 827.3 220.6 833.6 216.8 838.7 211.7 840 210.5M796.7 221.3 801.8 223.2 805.6 225.7 810.7 228.3 814.5 230.8 818.4 233.4 819.6 237.2 818.4 241 814.5 241.6 810.7 239.7M782.7 186.3 789.1 188.8 792.9 192.6 796.7 196.5 801.8 199 806.9 201.5 812 202.8 817.1 204.1 822.2 207.3 827.3 210.5 832.4 211.7 837.5 210.5 840 209.8M784 187.5 791.6 190.1 800.5 191.4 796.7 193.9 804.4 197.7 810.7 200.3 814.5 201.5 819.6 205.4 824.7 209.2 829.8 210.5M812 201.5 814.5 203.5M815.8 202.2 818.4 204.1M822.2 206 824.1 208.5M826 207.9 828.5 211.1M832.4 210.5 834.9 214.3M836.2 211.7 838.7 215.5M700 227.6 705.1 228.3 707.6 232.1 714 234 712.7 235.9 706.4 236.5 701.3 234.6ZM726.7 238.5 731.8 236.5 738.2 237.2 736.9 239.7 730.5 240.4ZM714.6 248.6 717.8 246.7 721 247.6 720.4 251.2 716.5 252.2ZM729.9 247.4 738.2 245.5 748.4 246.1 757.3 248 766.2 249.9 771.3 253.7 766.2 255 757.3 254.4 748.4 253.7 738.2 253.1 730.5 252.5ZM700 200.3 705.1 202.8 707.6 206.6 705.1 211.7 701.3 213M700 242.3 703.2 243.5 702.5 246.1 700 245.8M720.4 195.2 725.5 190.1 729.3 187.5M734.4 188.8 742 192.6 748.4 193.9 753.5 196.5 758.5 197.7M700 188.8 706.4 191.4 702.5 195.2M712.7 187.5 719.1 188.8M428 353 615.7 353 615.7 350 618 350.6 619.3 355.4 626.7 356.2 633.3 357 640 358.6 644.7 360.2 652.7 361M469.7 353 469.7 373.6 470.5 377M423.3 375 428 375.4 430.7 376.2 432 380.2 442 380.2 446.7 379.4 452.7 377.8 456.7 377 470.5 377M470.5 377 473.3 380.2 471 385 468.7 389 470 390.6 469.8 394.6 469.8 409M422 409 509.7 409M450 409 450 433 485.8 465M489.7 409 489.7 457 485.7 461 485.8 465 489.3 470.6 485.3 477.8 485.2 483.2M489.7 449 619.2 449M523 417 523 494.4M509.7 409 509.7 417 569.7 417 569.7 425M509.7 385 509.7 409M509.7 385 556.3 385M556.3 353 556.3 417M569.7 417 569.7 449M476.3 353 476.3 361 478.7 363.4 481.3 366.6 484.7 369.8 488 372.2 486.7 379.4 491.3 380.2 493.7 385 496.7 387 498 389.4 501.3 390.2 507.3 388.6 509.7 389 509.7 385M556.3 377.5 606.3 377.5M556.3 401 593.3 401 598 402.2 602 403 607 405M569.7 425 614.7 425M607 405 607.3 406.6 609.3 410.6 610.7 414.6 611 419.4 614.7 425 617.3 428.2 619.3 432.2 619.2 449 619.2 453 620.5 461.8 620.1 475.9M601.8 353 602.7 361 604.7 369 606 374.6 606.3 377.5 607 382.6 607 397 606.7 401 607 405M607 397 641.9 397M611.5 420.2 638.5 420.2 640.5 422M634.7 371.4 634.7 376.2 630.7 380.2 631.7 382.6 631.3 387 634.7 389 640 393 641.9 397 642.3 401 645.7 405 648.7 410.6 646.7 413 643.3 413.8 642.7 418.6 640.5 422 643.3 429 649.3 433.8 648.7 436.2 653.3 443.4 655.7 449 653.3 453 652 457 648.7 465 644 473 642.3 481 642.7 489 639.3 497 651.8 497 652 501 652.7 503.4M619.2 453 649 453 649 457 652 457M623.1 481 642.3 481M563.3 453 583.3 453 583.3 468.5 588.7 471.4 593.3 472.2 600 473.8 606 475.2 610 474.2 614.7 476.2 620.1 475.9 623.1 476.6 623.1 481 623.1 489.8 626 497 625.3 505 624.3 507.4M563.3 449 563.3 453 562.9 489 539.2 489M662 465 662.7 465.8 660.7 497 660.7 501.8M648.7 465 696 465M679.3 465 682 482.2 683.3 486.6 683.3 497 684.3 499.4 702 500.2 703.3 500.6 706.7 499.4M683.3 497 666 497 666.7 502.6M653.3 453 663 453 664.3 451.6 692 452.2 705.7 452.2 744.2 452.6M705.7 452.2 703.3 456.2 699.3 457.8 693.3 461 688 465M696 463.4 701.3 463.4 709.7 463.8 711.3 466.6 718.7 466.6 726.3 474.2M696 465 696 463.4 698 469 702.7 476.2 706 481 710 488.2M655.7 449 660 448.2 662.7 445.8 663.3 442.6 666 441.8 669.3 442.6 673.3 441 678 438.6 681.3 435.4 684.7 435 686 432.2 690 434.6 695.3 436.2 699.3 437.8 702.7 433.8 706 430.6 711 427.4 713.2 419.9M699.3 437.8 700.7 441.8 703.3 445 698.7 449 692 452.2M703.3 445 705.3 446.6 711.3 445.8 715.3 442.6 719.3 437.8 724.7 434.6 728 430.6 731.1 429.4M720.1 427.2 720.1 431.4 726.7 429 730 428.2 731.1 429.4 732 430.6 734.7 433 736.3 433.8 736.7 437.8 741.3 441M713.2 427.2 744.7 427.2 746 426.4 747.3 426.6M713.2 427.2 713.2 409M744.7 427.2 745.3 437.4 749.7 437.4M746 441 748.3 441.4M718.3 409 747.7 409 749.3 410.6 752 414.2 757.3 417M752 414.2 748.7 420.2 751.3 423.4 747.3 426.6M759 417.4 760 416.2 760 408.6 761.5 403 761 385M752 385 773.3 385 776.1 382.6 779.3 381.4 781.3 377 783.3 373.8 788.7 365.8M773.3 385 772.7 389 769.3 393 767.3 397 766.9 403.2M761.6 403.2 766.9 403.2 774.7 403.4 778 402M776.1 382.6 776.7 389 777 397 778.7 400.2M760 408.6 771.3 408.8 774 409 776 413M771.3 408.8 771 414.6M647.3 372.2 648.7 374.6 656 377 662.7 377.4 664.7 381 666 384.2M645.7 405 664.7 405M666.5 410.9 666.5 430.2 666.7 435.4 664 439.4 663.3 442.6M671.3 410.9 684.7 410.9M684.7 410.9 684.5 432.2M684.7 411.4 693.7 411.2M310 262.6 320 264.2 333.3 265.8 340 271.4 348 268.2 350 266.6 355.3 271.4 360 277 368 285 375.3 293 382.7 297 383.3 302.6 379.3 307.4M636 370.8 638.9 368.8 641.6 366.7 647.8 363 652.1 361.3 655 357.8 660 356.2 661.7 353.4 669.3 354.8 674 355.4 677.3 359.4 684 361.4 686 366.6 686.3 369.8 687.7 373 683.6 370.8 676.8 371.6 672.3 373.6 667.4 372.7 665.1 370.4 662 369 664.1 365.2 661.3 365.7 659.5 368 654.6 370 644.1 372.3 644.5 370.5 642.7 370.2 636 371.2 636 370.8M665.9 410 664 400.7 665.3 395 665.6 392.3 667 388.2 670.7 382.6 666 386.6 663.3 389 666 384.2 669.6 379 672.7 378.2 675 377.4 680 376.2 685.1 378 685.1 378.8 683.7 382 680.7 384.2 679.2 386.9 676.3 385.8 674.5 391 673.7 393.4 675 399.2 676 402.7 673.5 408.2 670.7 411.2 668 412.2 665.9 410M685.1 378.8 686.9 379.8 691.2 381.6 693.8 384.5 694.5 389.6 693.3 391 690.7 393.8 690.7 396.2 694 393.8 696.7 392.6 699 394.2 700.5 401 705 398.6 705.3 395.1 705.7 391.6 707.5 389 705.6 383 710 387 710.4 388.4 715.3 389 717.5 387 716.4 382.2 710.7 377.4 706.7 377.2 704.7 375.4 693 375 692 377 690.7 377.1 688 378.2 685.1 378.8M693.7 411.4 698.7 413.4 705.3 413 716.1 408 724.1 402 721.7 402 716 404.6 708.6 403.7 700 409.8 696 408.2 693.7 411.4M717.7 399 720.8 395.8 724.3 394 728.9 393.4 735.3 393.8 740 391.2 741.1 392 740 397.4 732.7 398.9 722.9 398.9 717.7 399M696 406.6 698 404.2 700.5 401M740 391.2 746.7 387.4 751.8 385 759.7 381 766.3 374.2 775.3 370.6M756.7 421 756.5 424.2 756 427.4 753.7 430.2 750.5 433.6 750.3 431.4 746.7 429.4 746.3 427.4M746.3 427.4 747.3 430.6 749.3 434.6 749.7 437.4 748.3 441 746 445 743.7 448.2 744.3 445 744.3 441 743 438.6 742 436.2 742.3 433 743.3 429 740 430.6 740 433.8 740.7 438.6 741.3 441 741.3 445 741.3 449 743.3 449.8M741.3 441 737.3 438.6 736.7 437.8M741.3 445 738 444.2M741.3 449 739.3 447.4"/>
</g>
<rect x="50" y="185" width="1000" height="480" fill="none" stroke="#000" stroke-width="2"/>
<path d="M45 185.5H50M45 225.5H50M45 265.5H50M45 305.5H50M45 345.5H50M45 385.5H50M45 425.5H50M45 465.5H50M45 505.5H50M45 545.5H50M45 585.5H50M45 625.5H50M45 665.5H50M50.5 665V671M116.5 665V671M183.5 665V671M250.5 665V671M316.5 665V671M383.5 665V671M450.5 665V671M516.5 665V671M583.5 665V671M650.5 665V671M716.5 665V671M783.5 665V671M850.5 665V671M916.5 665V671M983.5 665V671M1050.5 665V671" stroke="#000" stroke-width="1" fill="none" shape-rendering="crispEdges"/>
<text x="11.8" y="192.1" font-size="15.5" stroke-width="0.35" textLength="29.1" lengthAdjust="spacingAndGlyphs">70N</text><text x="11.8" y="232.1" font-size="15.5" stroke-width="0.35" textLength="29.1" lengthAdjust="spacingAndGlyphs">65N</text><text x="11.8" y="272.1" font-size="15.5" stroke-width="0.35" textLength="29.1" lengthAdjust="spacingAndGlyphs">60N</text><text x="11.8" y="312.1" font-size="15.5" stroke-width="0.35" textLength="29.1" lengthAdjust="spacingAndGlyphs">55N</text><text x="11.8" y="352.1" font-size="15.5" stroke-width="0.35" textLength="29.1" lengthAdjust="spacingAndGlyphs">50N</text><text x="11.8" y="392.1" font-size="15.5" stroke-width="0.35" textLength="29.1" lengthAdjust="spacingAndGlyphs">45N</text><text x="11.8" y="432.1" font-size="15.5" stroke-width="0.35" textLength="29.1" lengthAdjust="spacingAndGlyphs">40N</text><text x="11.8" y="472.1" font-size="15.5" stroke-width="0.35" textLength="29.1" lengthAdjust="spacingAndGlyphs">35N</text><text x="11.8" y="512.1" font-size="15.5" stroke-width="0.35" textLength="29.1" lengthAdjust="spacingAndGlyphs">30N</text><text x="11.8" y="552.1" font-size="15.5" stroke-width="0.35" textLength="29.1" lengthAdjust="spacingAndGlyphs">25N</text><text x="11.8" y="592.1" font-size="15.5" stroke-width="0.35" textLength="29.1" lengthAdjust="spacingAndGlyphs">20N</text><text x="11.8" y="632.1" font-size="15.5" stroke-width="0.35" textLength="29.1" lengthAdjust="spacingAndGlyphs">15N</text><text x="11.8" y="672.1" font-size="15.5" stroke-width="0.35" textLength="29.1" lengthAdjust="spacingAndGlyphs">10N</text><text x="37.0" y="686.7" font-size="15.5" stroke-width="0.35" textLength="27.4" lengthAdjust="spacingAndGlyphs">180</text><text x="98.0" y="686.7" font-size="15.5" stroke-width="0.35" textLength="38.8" lengthAdjust="spacingAndGlyphs">170W</text><text x="164.6" y="686.7" font-size="15.5" stroke-width="0.35" textLength="38.8" lengthAdjust="spacingAndGlyphs">160W</text><text x="231.3" y="686.7" font-size="15.5" stroke-width="0.35" textLength="38.8" lengthAdjust="spacingAndGlyphs">150W</text><text x="298.0" y="686.7" font-size="15.5" stroke-width="0.35" textLength="38.8" lengthAdjust="spacingAndGlyphs">140W</text><text x="364.6" y="686.7" font-size="15.5" stroke-width="0.35" textLength="38.8" lengthAdjust="spacingAndGlyphs">130W</text><text x="431.3" y="686.7" font-size="15.5" stroke-width="0.35" textLength="38.8" lengthAdjust="spacingAndGlyphs">120W</text><text x="498.0" y="686.7" font-size="15.5" stroke-width="0.35" textLength="38.8" lengthAdjust="spacingAndGlyphs">110W</text><text x="564.6" y="686.7" font-size="15.5" stroke-width="0.35" textLength="38.8" lengthAdjust="spacingAndGlyphs">100W</text><text x="635.5" y="686.7" font-size="15.5" stroke-width="0.35" textLength="30.5" lengthAdjust="spacingAndGlyphs">90W</text><text x="702.1" y="686.7" font-size="15.5" stroke-width="0.35" textLength="30.5" lengthAdjust="spacingAndGlyphs">80W</text><text x="768.8" y="686.7" font-size="15.5" stroke-width="0.35" textLength="30.5" lengthAdjust="spacingAndGlyphs">70W</text><text x="835.5" y="686.7" font-size="15.5" stroke-width="0.35" textLength="30.5" lengthAdjust="spacingAndGlyphs">60W</text><text x="902.1" y="686.7" font-size="15.5" stroke-width="0.35" textLength="30.5" lengthAdjust="spacingAndGlyphs">50W</text><text x="968.8" y="686.7" font-size="15.5" stroke-width="0.35" textLength="30.5" lengthAdjust="spacingAndGlyphs">40W</text><text x="1035.5" y="686.7" font-size="15.5" stroke-width="0.35" textLength="30.5" lengthAdjust="spacingAndGlyphs">30W</text><text x="125.3" y="167.6" font-size="33.5" stroke-width="1.0" textLength="197.8" lengthAdjust="spacingAndGlyphs">2017090600</text><text x="344.4" y="167.6" font-size="33.5" stroke-width="1.0" textLength="95.7" lengthAdjust="spacingAndGlyphs">GEFS_</text><text x="441.9" y="167.6" font-size="33.5" stroke-width="1.0" textLength="252.4" lengthAdjust="spacingAndGlyphs"><tspan font-size="29.5">fixedpre</tspan>024<tspan font-size="29.5">diff</tspan>3</text><text x="715.4" y="167.6" font-size="33.5" stroke-width="1.0" textLength="22.6" lengthAdjust="spacingAndGlyphs"><tspan font-size="29.5">in</tspan></text><text x="759.3" y="167.6" font-size="33.5" stroke-width="1.0" textLength="54.7" lengthAdjust="spacingAndGlyphs">SLP</text><text x="836.4" y="167.6" font-size="33.5" stroke-width="1.0" textLength="30.0" lengthAdjust="spacingAndGlyphs"><tspan font-size="29.5">at</tspan></text><text x="884.2" y="167.6" font-size="33.5" stroke-width="1.0" textLength="89.8" lengthAdjust="spacingAndGlyphs">054<tspan font-size="29.5">hr</tspan></text><text x="337.0" y="776.6" font-size="18.5" stroke-width="0.35" textLength="26.3" lengthAdjust="spacingAndGlyphs">&#8722;6</text><text x="417.6" y="776.6" font-size="18.5" stroke-width="0.35" textLength="26.0" lengthAdjust="spacingAndGlyphs">&#8722;4</text><text x="497.6" y="776.6" font-size="18.5" stroke-width="0.35" textLength="23.0" lengthAdjust="spacingAndGlyphs">&#8722;1</text><text x="589.5" y="776.6" font-size="18.5" stroke-width="0.35" text-anchor="middle">1</text><text x="670.0" y="776.6" font-size="18.5" stroke-width="0.35" text-anchor="middle">4</text><text x="750.0" y="776.6" font-size="18.5" stroke-width="0.35" text-anchor="middle">6</text><text x="302.1" y="712.7" font-size="14.5" stroke-width="0.4" textLength="47.0" lengthAdjust="spacingAndGlyphs">Color</text><text x="361.0" y="712.7" font-size="14.5" stroke-width="0.4" textLength="13.8" lengthAdjust="spacingAndGlyphs">is</text><text x="387.8" y="712.7" font-size="14.5" stroke-width="0.4" textLength="27.3" lengthAdjust="spacingAndGlyphs">the</text><text x="426.7" y="712.7" font-size="14.5" stroke-width="0.4" textLength="85.7" lengthAdjust="spacingAndGlyphs">reduction</text><text x="524.9" y="712.7" font-size="14.5" stroke-width="0.4" textLength="18.4" lengthAdjust="spacingAndGlyphs">of</text><text x="553.9" y="712.7" font-size="14.5" stroke-width="0.4" textLength="32.2" lengthAdjust="spacingAndGlyphs">abs</text><text x="598.0" y="712.7" font-size="14.5" stroke-width="0.4" textLength="44.9" lengthAdjust="spacingAndGlyphs">error</text><text x="654.4" y="712.7" font-size="14.5" stroke-width="0.4" textLength="14.8" lengthAdjust="spacingAndGlyphs">in</text><text x="681.3" y="712.7" font-size="14.5" stroke-width="0.4" textLength="31.6" lengthAdjust="spacingAndGlyphs">ens</text><text x="724.9" y="712.7" font-size="14.5" stroke-width="0.4" textLength="49.7" lengthAdjust="spacingAndGlyphs">mean</text><text x="787.1" y="712.7" font-size="14.5" stroke-width="0.4" textLength="111.1" lengthAdjust="spacingAndGlyphs">(bad-good)</text><text x="5.2" y="845.2" font-size="12.3" stroke-width="0.5" textLength="115.4" lengthAdjust="spacingAndGlyphs">GrADS: COLA/IGES</text><text x="940.2" y="845.6" font-size="13.3" stroke-width="0.5" textLength="131.0" lengthAdjust="spacingAndGlyphs">2018-02-14-21:49</text>
<rect x="270" y="737" width="80" height="21" fill="#1e3cff"/>
<rect x="350" y="737" width="80" height="21" fill="#00dc00"/>
<rect x="430" y="737" width="80" height="21" fill="#00c8c8"/>
<rect x="590" y="737" width="80" height="21" fill="#e6dc32"/>
<rect x="670" y="737" width="80" height="21" fill="#fa3c3c"/>
<rect x="750" y="737" width="80" height="21" fill="#a000c8"/>
</svg>
</body></html>
